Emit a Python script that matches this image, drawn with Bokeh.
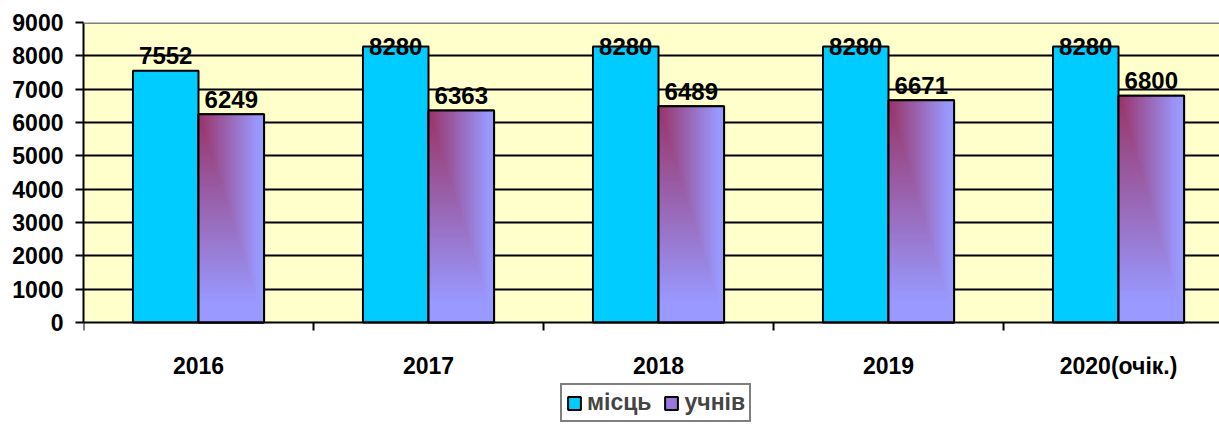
import numpy as np
from bokeh.plotting import figure
from bokeh.models import (Range1d, FixedTicker, Span, Label, Legend, LegendItem,
                          ColumnDataSource, BoxAnnotation)
from bokeh.core.properties import value
from bokeh.embed import file_html
from bokeh.resources import INLINE

title_text = "у 2016 - 2020 роках"
years = ["2016", "2017", "2018", "2019", "2020(очік.)"]
places = [7552, 8280, 8280, 8280, 8280]
pupils = [6249, 6363, 6489, 6671, 6800]
series_names = ["місць", "учнів"]
y_ticks = [0, 1000, 2000, 3000, 4000, 5000, 6000, 7000, 8000, 9000]

BLUE = "#00CCFF"
LAV = (153, 153, 255)
MAG = (153, 51, 102)
FONT = "Liberation Sans"
BW = 0.285
Y_MAX = 9000
UPP = Y_MAX / 300.0          # data units per pixel on the value axis
Y_MIN = -104 * UPP           # frame continues below the zero line to hold labels and legend

n = len(years)
centers = np.arange(n) + 0.5
bounds = np.arange(n + 1)

p = figure(width=1219, height=426, output_backend="svg", toolbar_location=None,
           x_range=Range1d(0, 4.939), y_range=Range1d(Y_MIN, Y_MAX),
           x_axis_location=None,
           min_border_left=83, min_border_right=0, min_border_top=22, min_border_bottom=0,
           background_fill_color="white", border_fill_color="white",
           outline_line_color=None)

# plot area background
p.add_layout(BoxAnnotation(bottom=0, top=Y_MAX, fill_color="#FFFFCC", fill_alpha=1,
                           line_color=None, level="image"))

src = ColumnDataSource(dict(
    xb=centers - BW / 2, xp=centers + BW / 2, places=places, pupils=pupils,
    lp=[str(v) for v in places], lu=[str(v) for v in pupils],
    yp=np.minimum(np.array(places) + 450, Y_MAX - 720),
    yu=np.minimum(np.array(pupils) + 450, Y_MAX - 720),
))

blue_r = p.vbar(x="xb", top="places", width=BW, bottom=0, source=src,
                fill_color=BLUE, line_color="black", line_width=2)
purple_r = p.vbar(x="xp", top="pupils", width=BW, bottom=0, source=src,
                  fill_color="#9977DD", line_color="black", line_width=2)

# gradient images for second series
N, M = 160, 48
rows = np.arange(N)[:, None]
cols = np.arange(M)[None, :]
yf = 1 - (rows + 0.5) / N
xf = (cols + 0.5) / M
t = np.clip(np.maximum(xf, yf) / 0.9, 0, 1)
img = np.empty((N, M), dtype=np.uint32)
view = img.view(dtype=np.uint8).reshape((N, M, 4))
for k in range(3):
    view[:, :, k] = (MAG[k] * (1 - t) + LAV[k] * t).astype(np.uint8)
view[:, :, 3] = 255
p.image_rgba(image=[img] * n, x=list(centers), y=[0] * n, dw=[BW] * n, dh=pupils)
p.vbar(x="xp", top="pupils", width=BW, bottom=0, source=src,
       fill_color=None, line_color="black", line_width=2)

for col, ycol in (("lp", "yp"), ("lu", "yu")):
    xcol = "xb" if col == "lp" else "xp"
    p.text(x=xcol, y=ycol, text=col, source=src, text_align="center",
           text_baseline="alphabetic", text_font=value(FONT), text_font_style="bold",
           text_font_size="24px", text_color="black")

# grid
p.xgrid.visible = False
p.ygrid.ticker = FixedTicker(ticks=y_ticks[1:-1])
p.ygrid.grid_line_color = "black"
p.ygrid.grid_line_width = 2
p.add_layout(Span(location=Y_MAX, dimension="width", line_color="#808080", line_width=3))

# category axis at zero: line, boundary ticks and labels
p.add_layout(Span(location=0, dimension="width", line_color="black", line_width=2))
p.segment(x0=bounds, y0=[0] * (n + 1), x1=bounds, y1=[-8 * UPP] * (n + 1),
          line_color="black", line_width=2)
p.text(x=centers, y=[-43 * UPP] * n, text=years, text_align="center",
       text_baseline="alphabetic", text_font=value(FONT), text_font_style="bold",
       text_font_size="23px", text_color="black")

# value axis
p.yaxis.ticker = FixedTicker(ticks=y_ticks)
p.yaxis.bounds = (0, Y_MAX)
p.yaxis.axis_line_width = 2
p.yaxis.major_tick_line_width = 2
p.yaxis.major_tick_out = 8
p.yaxis.major_tick_in = 0
p.yaxis.minor_tick_line_color = None
p.yaxis.major_label_standoff = 12
p.yaxis.major_label_text_font = FONT
p.yaxis.major_label_text_font_style = "bold"
p.yaxis.major_label_text_font_size = "23px"
p.yaxis.major_label_text_color = "black"

legend = Legend(items=[LegendItem(label=series_names[0], renderers=[blue_r]),
                       LegendItem(label=series_names[1], renderers=[purple_r])],
                orientation="horizontal", location=(477, 4),
                label_text_font=FONT, label_text_font_style="bold",
                label_text_font_size="23px", label_standoff=5,
                glyph_width=16, glyph_height=16, spacing=12,
                padding=4, margin=0, border_line_color="black", border_line_width=2,
                background_fill_color="white", background_fill_alpha=1,
                label_height=16)
p.add_layout(legend, "center")

p.add_layout(Label(x=2.49, y=Y_MAX + 19 * UPP, text=title_text, text_align="center",
                   text_baseline="alphabetic", text_font="Liberation Serif",
                   text_font_style="bold", text_font_size="24px"))

open("out.html", "w").write(file_html(p, INLINE))
